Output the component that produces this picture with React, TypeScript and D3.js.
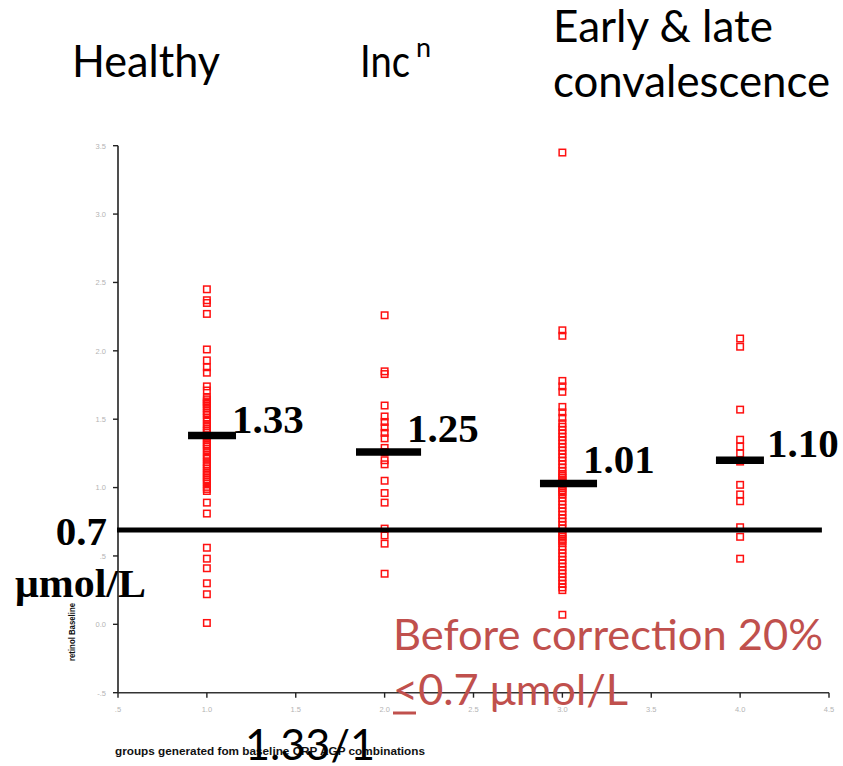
import React from "react";
import * as d3 from "d3";

// ---- data ----
const groupIds = [1, 2, 3, 4];

const healthyValues = [
  2.45, 2.37, 2.35, 2.27, 2.01, 1.93, 1.88, 1.84, 1.74, 1.71, 1.62,
  1.66, 1.645, 1.63, 1.61, 1.595, 1.58, 1.56, 1.545, 1.53, 1.51, 1.49,
  1.465, 1.45, 1.43, 1.415, 1.4, 1.38, 1.365, 1.35, 1.33, 1.315, 1.3, 1.285, 1.265,
  1.24, 1.225, 1.21, 1.185, 1.17, 1.155, 1.14, 1.12, 1.105, 1.09, 1.075, 1.06, 1.045, 1.03,
  1.005, 0.99, 0.975, 0.89, 0.81, 0.56, 0.48, 0.41, 0.3, 0.22, 0.01,
];

const incubationValues = [
  2.26, 1.85, 1.83, 1.6, 1.52, 1.48, 1.44, 1.4, 1.36, 1.29, 1.26, 1.2, 1.17,
  1.05, 0.96, 0.89, 0.7, 0.65, 0.59, 0.37,
];

const convalescenceValues = [
  3.45, 2.15, 2.11, 1.78, 1.74, 1.7, 1.59, 1.55, 1.51,
  1.47, 1.445, 1.42, 1.395, 1.37, 1.345, 1.32, 1.295, 1.27, 1.245, 1.22, 1.195, 1.17, 1.145, 1.12,
  1.1, 1.085, 1.07, 1.055, 1.04, 1.025, 1.01, 0.995, 0.98, 0.965, 0.95,
  0.925, 0.9, 0.875, 0.85, 0.825, 0.8, 0.775, 0.75, 0.725, 0.7,
  0.67, 0.655, 0.64, 0.625, 0.61, 0.595,
  0.57, 0.545, 0.52, 0.495, 0.47, 0.445, 0.42, 0.395, 0.37, 0.345, 0.32, 0.295, 0.27, 0.25, 0.07,
];

const group4Values = [2.09, 2.03, 1.57, 1.35, 1.3, 1.25, 1.19, 1.02, 0.95, 0.9, 0.71, 0.64, 0.48];

const seriesValues = [healthyValues, incubationValues, convalescenceValues, group4Values];

// drawn median bars (y value, x start, x end in group units)
const medianLevels = [1.38, 1.26, 1.03, 1.2];
const medianStarts = [0.894, 1.839, 2.874, 3.864];
const medianEnds = [1.164, 2.205, 3.195, 4.134];
const medianLabels = ["1.33", "1.25", "1.01", "1.10"];
const medianLabelX = [1.141, 2.126, 3.116, 4.151];
const medianLabelY = [1.399, 1.333, 1.106, 1.223];

const threshold = 0.7;
const thresholdEnd = 4.46;

const yTicks = [-0.5, 0, 0.5, 1, 1.5, 2, 2.5, 3, 3.5];
const yTickLabels = ["-.5", "0.0", ".5", "1.0", "1.5", "2.0", "2.5", "3.0", "3.5"];
const xTicks = [0.5, 1, 1.5, 2, 2.5, 3, 3.5, 4, 4.5];
const xTickLabels = [".5", "1.0", "1.5", "2.0", "2.5", "3.0", "3.5", "4.0", "4.5"];

const W = 843;
const H = 766;
const sans = "Lato, 'Open Sans', sans-serif";
const serif = "'Liberation Serif', 'Times New Roman', serif";
const small = "Arial, 'Liberation Sans', sans-serif";
const red = "#c0504d";

export default function App() {
  const x = d3.scaleLinear().domain([0.5, 4.5]).range([118, 829]);
  const y = d3.scaleLinear().domain([-0.5, 3.5]).range([692.7, 145.7]);
  const sq = 6.5;

  return (
    <svg
      width={W}
      height={H}
      viewBox={`0 0 ${W} ${H}`}
      style={{ position: "absolute", left: 0, top: 0, background: "#fff" }}
    >
      <rect x={0} y={0} width={W} height={H} fill="#fff" />

      {/* titles */}
      <text x={72} y={77} fontFamily={sans} fontSize={44} fill="#000" textLength={148} lengthAdjust="spacingAndGlyphs">Healthy</text>
      <text x={360} y={77} fontFamily={sans} fontSize={44} fill="#000" textLength={50} lengthAdjust="spacingAndGlyphs">Inc</text>
      <text x={416} y={57} fontFamily={sans} fontSize={27} fill="#000">n</text>
      <text x={553} y={42} fontFamily={sans} fontSize={44} fill="#000" textLength={220} lengthAdjust="spacingAndGlyphs">Early &amp; late</text>
      <text x={553} y={97} fontFamily={sans} fontSize={44} fill="#000" textLength={277} lengthAdjust="spacingAndGlyphs">convalescence</text>

      {/* axes */}
      <line x1={x(0.5)} x2={x(0.5)} y1={y(3.5)} y2={y(-0.5)} stroke="#222" strokeWidth={1.6} />
      <line x1={x(0.5)} x2={x(4.5)} y1={y(-0.5)} y2={y(-0.5)} stroke="#333" strokeWidth={1.6} />
      {yTicks.map((t, i) => (
        <g key={"yt" + i}>
          <line x1={x(0.5) - 5} x2={x(0.5)} y1={y(t)} y2={y(t)} stroke="#222" strokeWidth={1.4} />
          <text x={106} y={y(t) + 2.8} textAnchor="end" fontFamily={small} fontSize={7.5} fill="#b4b4b4">{yTickLabels[i]}</text>
        </g>
      ))}
      {xTicks.map((t, i) => (
        <g key={"xt" + i}>
          <line x1={x(t)} x2={x(t)} y1={y(-0.5)} y2={y(-0.5) + 5} stroke="#222" strokeWidth={1.4} />
          <text x={x(t)} y={712} textAnchor="middle" fontFamily={small} fontSize={7.5} fill="#b4b4b4">{xTickLabels[i]}</text>
        </g>
      ))}
      <text x={115} y={755} fontFamily={small} fontWeight="bold" fontSize={10} fill="#111" textLength={310} lengthAdjust="spacingAndGlyphs">groups generated fom baseline CRP AGP combinations</text>
      <text transform={`translate(75,632) rotate(-90)`} textAnchor="middle" fontFamily={small} fontWeight="bold" fontSize={9} fill="#111" textLength={58} lengthAdjust="spacingAndGlyphs">retinol Baseline</text>

      {/* points */}
      {seriesValues.map((vals, gi) =>
        vals.map((v, j) => (
          <rect
            key={`p${gi}-${j}`}
            x={x(groupIds[gi]) - sq / 2}
            y={y(v) - sq / 2}
            width={sq}
            height={sq}
            fill="none"
            stroke="#ff1010"
            strokeWidth={1.5}
          />
        ))
      )}

      {/* threshold line */}
      <line x1={x(0.5) - 1} x2={x(thresholdEnd)} y1={y(threshold) + 1.5} y2={y(threshold) + 1.5} stroke="#000" strokeWidth={5} />

      {/* median bars */}
      {medianLevels.map((m, i) => (
        <line key={"m" + i} x1={x(medianStarts[i])} x2={x(medianEnds[i])} y1={y(m)} y2={y(m)} stroke="#000" strokeWidth={7.5} />
      ))}
      {medianLabels.map((l, i) => (
        <text key={"ml" + i} x={x(medianLabelX[i])} y={y(medianLabelY[i])} fontFamily={serif} fontWeight="bold" fontSize={41} fill="#000">{l}</text>
      ))}

      {/* threshold label */}
      <text x={107} y={545} textAnchor="end" fontFamily={serif} fontWeight="bold" fontSize={41} fill="#000">0.7</text>
      <text x={15} y={597} fontFamily={serif} fontWeight="bold" fontSize={40} fill="#000" textLength={131} lengthAdjust="spacingAndGlyphs">μmol/L</text>

      {/* red annotation */}
      <text x={393} y={650} fontFamily={sans} fontSize={43} fill={red} textLength={430} lengthAdjust="spacingAndGlyphs">Before correction 20%</text>
      <text x={393} y={705} fontFamily={sans} fontSize={43} fill={red} textLength={235} lengthAdjust="spacingAndGlyphs">&lt;0.7 μmol/L</text>
      <line x1={393} x2={416} y1={713} y2={713} stroke={red} strokeWidth={3} />

      <text x={245} y={760} fontFamily={sans} fontSize={43} fill="#000" textLength={130} lengthAdjust="spacingAndGlyphs">1.33/1</text>
    </svg>
  );
}
